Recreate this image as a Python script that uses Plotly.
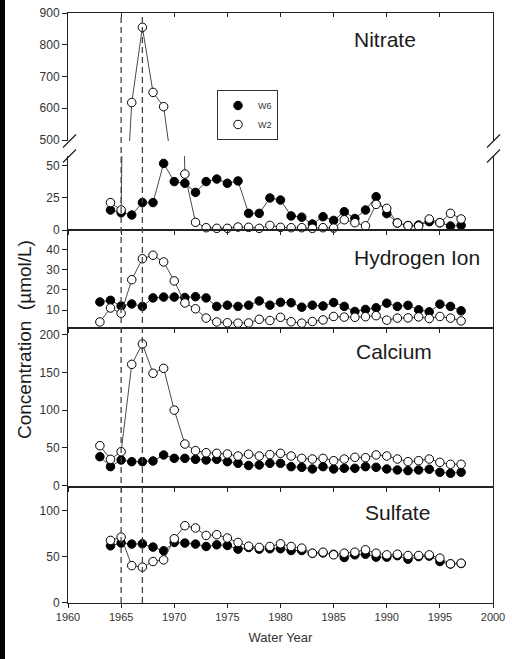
import plotly.graph_objects as go

# ---------------- data ----------------
years_63 = list(range(1963, 1998))   # H+, Ca
years_64 = list(range(1964, 1998))   # NO3, SO4

no3_w6 = [15.6, 13.5, 11.7, 21.4, 21.4, 52, 37.8, 36.5, 29.4, 37.8, 39.8, 36.5, 38.3, 13, 13, 25,
          23.4, 11, 10, 4.7, 10.4, 7.5, 14.3, 9, 15.6, 26, 12.8, 5.5, 3.5, 3.9, 6.5, 5.7, 3.1, 3.6]
no3_w2 = [21.4, 15.6, 618, 855, 650, 605, 361, 43.7, 6, 1.8, 1.3, 1.3, 2.3, 2.1, 1.3, 3.6,
          2.1, 1.8, 1.8, 1.3, 1.8, 1.5, 8, 5.7, 3.3, 20, 16.9, 5.5, 3.4, 3.1, 8.6, 5.7, 13, 8.6]

h_w6 = [14, 14.8, 12, 13, 11.8, 16, 16.4, 16.4, 16.2, 16.6, 16, 11.8, 12.4, 11.8, 12.4, 14.5, 12.4,
        13.8, 13.6, 11.4, 12.4, 12, 13.7, 11.8, 9.3, 10.3, 11.1, 13.4, 11.8, 12.3, 10.1, 9.1, 12.9, 11.8, 9.6]
h_w2 = [4.1, 11, 8.4, 25, 35.4, 37.1, 33.8, 24.4, 13.5, 10.6, 6, 4.1, 3.7, 3.5, 3.6, 5.4, 4.8,
        6.4, 4.2, 3.5, 4.3, 5.1, 6.8, 6.5, 6.4, 6.7, 7.2, 5, 6, 6.1, 6.6, 5.8, 6.8, 6, 4.6]

ca_w6 = [38.2, 25, 33.8, 31.6, 31.6, 32.5, 40.5, 36, 36, 34.7, 33.8, 34.7, 31.6, 29.4, 26.5, 27.2, 29.4,
         29.4, 25, 24.1, 21.9, 25, 21.9, 22.8, 22.8, 25, 24.1, 21.9, 20.6, 19.7, 20.6, 21.5, 17.5, 16.2, 17.5]
ca_w2 = [52.8, 34.7, 44.9, 160.7, 187.7, 148.8, 155.4, 100, 55, 46.2, 43.5, 42.7, 41.8, 39.1, 41.5, 39.1, 41,
         42.7, 39.1, 36, 35.1, 36, 32.9, 35.1, 37.4, 36.9, 40.5, 39.1, 35.1, 31.6, 32.9, 35.1, 30.7, 28.1, 28.1]

so4_w6 = [61.7, 64.7, 63.6, 63.9, 60.3, 56.3, 65.4, 64.7, 63.6, 61, 62.8, 62.1, 58.1, 59.9, 58.1, 58.5,
          58.5, 56.6, 56.6, 53.5, 54, 52.5, 49, 51.9, 52.6, 49.4, 49.4, 51, 47.2, 50, 50.5, 44.6, 42, 42.5]
so4_w2 = [67.6, 71.2, 40.2, 38.5, 44.6, 46.4, 69.4, 83.6, 81.1, 73, 73.8, 70.2, 65.4, 61.3, 60, 61,
          63.9, 61, 59.2, 53.7, 54.8, 51.9, 53.7, 54.8, 57.4, 53.7, 51.9, 52.6, 51.2, 51.2, 51.9, 48.3, 42.1, 42.8]

event_years = [1965, 1967]
x_ticks = [1960, 1965, 1970, 1975, 1980, 1985, 1990, 1995, 2000]
no3_hi_ticks = [500, 600, 700, 800, 900]
no3_lo_ticks = [0, 25, 50]
h_ticks = [10, 20, 30, 40]
ca_ticks = [0, 50, 100, 150, 200]
so4_ticks = [0, 50, 100]
panel_names = ["Nitrate", "Hydrogen Ion", "Calcium", "Sulfate"]
series_names = ["W6", "W2"]

# ---------------- styling ----------------
FONT = "Liberation Sans, Arial, Helvetica, sans-serif"
LINE_C = "#4a4a4a"
AX_C = "#222222"
MSIZE = 8.5
NO3_HI_RANGE = [496.9, 900]
NO3_LO_RANGE = [0, 57.8]

fig = go.Figure()

def add_pair(xs, w6, w2, xa, ya, legend=False, mode="lines+markers"):
    for name, vals, fill in ((series_names[0], w6, "black"), (series_names[1], w2, "white")):
        fig.add_trace(go.Scatter(
            x=xs, y=vals, mode=mode, name=name, legendgroup=name, showlegend=legend,
            xaxis=xa, yaxis=ya, cliponaxis=False,
            line=dict(color=LINE_C, width=1),
            marker=dict(symbol="circle", size=MSIZE, color=fill, line=dict(color="black", width=1)),
            hoverinfo="skip"))

def mask(vals, lo, hi):
    return [v if lo <= v <= hi else None for v in vals]

# nitrate broken axis: lines (clipped to each part), markers only where in range
for xa, ya in (("x", "y"), ("x2", "y2")):
    for vals in (no3_w6, no3_w2):
        fig.add_trace(go.Scatter(x=years_64, y=vals, mode="lines", xaxis=xa, yaxis=ya,
                                 line=dict(color=LINE_C, width=1), showlegend=False, hoverinfo="skip"))
for xa, ya, rng in (("x", "y", NO3_HI_RANGE), ("x2", "y2", NO3_LO_RANGE)):
    add_pair(years_64, mask(no3_w6, *rng), mask(no3_w2, *rng), xa, ya,
             legend=(ya == "y"), mode="markers")

add_pair(years_63, h_w6, h_w2, "x3", "y3")
add_pair(years_63, ca_w6, ca_w2, "x4", "y4")
add_pair(years_64, so4_w6, so4_w2, "x5", "y5")

# ---------------- layout ----------------
L, T, W, H = 68, 13, 425, 590
def py(pix):
    return (T + H - pix) / H

dom = {
    "y": [py(141), 1.0],
    "y2": [py(230), py(156)],
    "y3": [py(328), py(230)],
    "y4": [py(487), py(328)],
    "y5": [0.0, py(487)],
}
yranges = {"y": NO3_HI_RANGE, "y2": NO3_LO_RANGE, "y3": [1.1, 49.6], "y4": [-2, 208.9], "y5": [-0.5, 125.7]}
yticks = {"y": no3_hi_ticks, "y2": no3_lo_ticks, "y3": h_ticks, "y4": ca_ticks, "y5": so4_ticks}

tickfont = dict(family=FONT, size=12, color="#333333")
layout = dict(
    template="none",
    width=512, height=659, autosize=False,
    margin=dict(l=L, r=512 - L - W, t=T, b=659 - T - H, pad=0),
    paper_bgcolor="white", plot_bgcolor="white",
    font=dict(family=FONT, color="#222222"),
    showlegend=True,
    legend=dict(x=(217 - L) / W, y=py(90), xanchor="left", yanchor="top",
                bordercolor="#333333", borderwidth=1, bgcolor="white",
                font=dict(family=FONT, size=9, color="#333333"),
                tracegroupgap=0, itemwidth=30),
)

for i, key in enumerate(["y", "y2", "y3", "y4", "y5"]):
    n = "" if i == 0 else str(i + 1)
    ax_x = dict(domain=[0, 1], range=[1960, 2000], anchor="y" + n, tickvals=x_ticks,
                showgrid=False, zeroline=False, showline=True, linecolor=AX_C, linewidth=1,
                ticklen=4, tickcolor=AX_C, showticklabels=False, automargin=False)
    if i == 0:
        ax_x.update(side="top", ticks="inside", mirror=False)
    elif i == 1:
        ax_x.update(ticks="outside", mirror=False)
    elif i == 4:
        ax_x.update(ticks="outside", mirror=True, showticklabels=True,
                    tickfont=dict(family=FONT, size=11, color="#333333"),
                    title=dict(text="Water Year", font=dict(family=FONT, size=13, color="#333333"), standoff=10))
    else:
        ax_x.update(ticks="outside", mirror=True)
    if i > 0:
        ax_x["matches"] = "x"
    ax_y = dict(domain=dom[key], range=yranges[key], anchor="x" + n, tickvals=yticks[key],
                showgrid=False, zeroline=False, showline=True, mirror=True, linecolor=AX_C, linewidth=1,
                ticks="outside", ticklen=5, tickcolor=AX_C, tickfont=tickfont, automargin=False)
    layout["xaxis" + n] = ax_x
    layout["yaxis" + n] = ax_y

fig.update_layout(**layout)

# panel labels
label_pos = [(385, 40), (417, 257), (394, 352), (397, 512)]
for name, (px_, py_) in zip(panel_names, label_pos):
    fig.add_annotation(text=name, xref="paper", yref="paper", x=(px_ - L) / W, y=py(py_),
                       showarrow=False, xanchor="center", yanchor="middle",
                       font=dict(family=FONT, size=21, color="#1a1a1a"))

# y-axis title
fig.add_annotation(text="Concentration  (µmol/L)", xref="paper", yref="paper",
                   x=(24 - L) / W, y=py(340), textangle=-90, showarrow=False,
                   xanchor="center", yanchor="middle",
                   font=dict(family=FONT, size=19, color="#1a1a1a"))

# dashed event lines
for yr in event_years:
    fig.add_shape(type="line", xref="x5", yref="paper", x0=yr, x1=yr, y0=0, y1=1,
                  line=dict(color="#444444", width=1.3, dash="6px,4px"))

# axis-break marks
for xc in (L + 1.5, L + W + 0.5):
    for yc in (141, 156):
        fig.add_shape(type="line", xref="paper", yref="paper",
                      x0=(xc - 6.5 - L) / W, x1=(xc + 6.5 - L) / W,
                      y0=py(yc + 6.5), y1=py(yc - 6.5),
                      line=dict(color=AX_C, width=1.2))

# dark strip on left edge
fig.add_shape(type="rect", xref="paper", yref="paper", x0=(0 - L) / W, x1=(5 - L) / W,
              y0=py(659), y1=py(0), fillcolor="black", line=dict(width=0), layer="above")

fig.write_html("out.html", config={"displayModeBar": False},
               post_script="document.body.style.margin='0px';")
